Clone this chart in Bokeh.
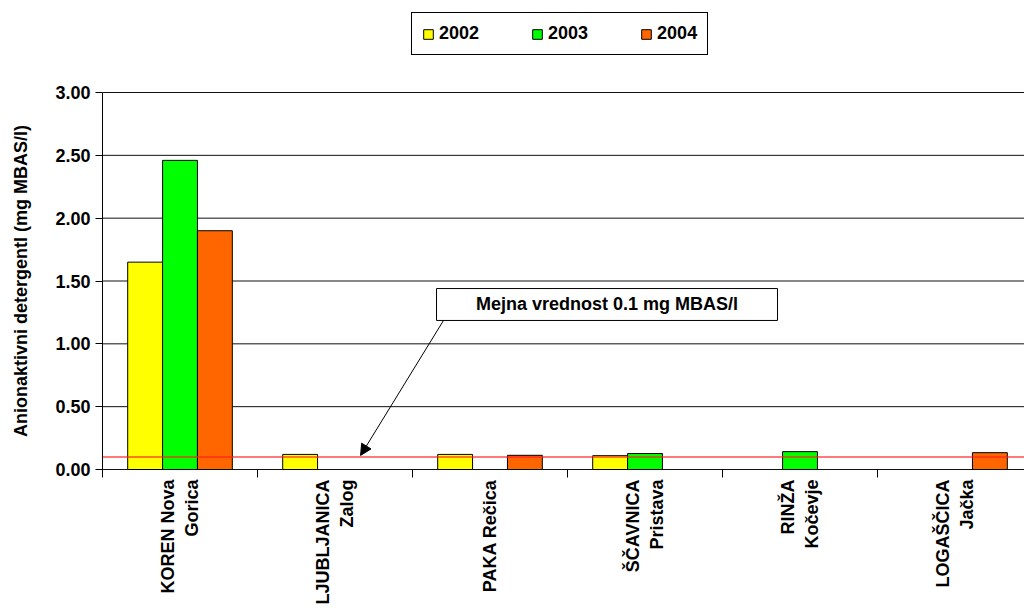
import math
import numpy as np
from bokeh.plotting import figure
from bokeh.models import (ColumnDataSource, FixedTicker, Label, BoxAnnotation,
                          Arrow, NormalHead, Legend, LegendItem, NumeralTickFormatter, Range1d)
from bokeh.embed import file_html
from bokeh.resources import INLINE

# ---- data ----
stations = ["KOREN Nova\nGorica", "LJUBLJANICA\nZalog", "PAKA Rečica",
            "ŠČAVNICA\nPristava", "RINŽA\nKočevje", "LOGAŠČICA\nJačka"]
years = ["2002", "2003", "2004"]
v2002 = [1.65, 0.12, 0.12, 0.11, np.nan, np.nan]
v2003 = [2.46, np.nan, np.nan, 0.127, 0.142, np.nan]
v2004 = [1.90, np.nan, 0.113, np.nan, np.nan, 0.134]
limit_value = 0.1
limit_text = "Mejna vrednost 0.1 mg MBAS/l"
y_ticks = [0.0, 0.5, 1.0, 1.5, 2.0, 2.5, 3.0]
y_max = 3.0
y_title = "Anionaktivni detergentl (mg MBAS/l)"

colors = ["#FFFF00", "#00FF00", "#FF6600"]
FONT = "Liberation Sans"
FS = "18px"

n = len(stations)
centers = [i + 0.5 for i in range(n)]
bar_w = 0.225
offsets = [-bar_w, 0.0, bar_w]

# frame covers x 0..1024 px and y 0..477 px; value axis starts at x=102 px, value 0 at 469 px
CAT = 155.0            # px per category
PX = 377 / y_max       # px per unit
x_end = 922 / CAT
p = figure(width=1024, height=614,
           x_range=Range1d(-102 / CAT, x_end), y_range=Range1d(-8 / PX, 469 / PX),
           output_backend="svg", toolbar_location=None,
           min_border_left=0, min_border_right=0,
           min_border_top=0, min_border_bottom=137)
p.outline_line_color = None
p.background_fill_color = "white"
p.border_fill_color = "white"
p.xgrid.visible = False
p.ygrid.visible = False

# horizontal grid lines (only over the plot area); the one at 0 is the category axis line
p.segment(x0=[0] * len(y_ticks), x1=[x_end] * len(y_ticks), y0=y_ticks, y1=y_ticks,
          line_color="#101010", line_width=1)

renderers = []
for vals, off, col in zip([v2002, v2003, v2004], offsets, colors):
    src = ColumnDataSource(dict(x=[c + off for c in centers], top=vals))
    r = p.vbar(x="x", top="top", width=bar_w, source=src,
               fill_color=col, line_color="black", line_width=1)
    renderers.append(r)

# limit line
p.segment(x0=[0], x1=[x_end], y0=[limit_value], y1=[limit_value],
          line_color="#FF2020", line_alpha=0.8, line_width=1.5)

# y axis pinned at x = 0
p.yaxis.fixed_location = 0
p.yaxis.ticker = FixedTicker(ticks=y_ticks)
p.yaxis.bounds = (0, y_max)
p.yaxis.formatter = NumeralTickFormatter(format="0.00")
p.yaxis.major_tick_in = 0
p.yaxis.major_tick_out = 7
p.yaxis.minor_tick_line_color = None
p.yaxis.axis_line_color = "black"
p.yaxis.major_label_text_font = FONT
p.yaxis.major_label_text_font_style = "bold"
p.yaxis.major_label_text_font_size = FS
p.yaxis.major_label_text_color = "black"
p.yaxis.major_label_standoff = 5

# y title
p.add_layout(Label(x=20, x_units="screen", y=y_max / 2, y_units="data", angle=math.pi / 2,
                   text=y_title, text_align="center", text_baseline="middle",
                   text_font=FONT, text_font_style="bold", text_font_size=FS,
                   text_color="black"))

# x axis (at frame bottom, 8 px under value 0; its ticks reach up to the 0 line)
p.xaxis.bounds = (0, x_end)
p.xaxis.ticker = FixedTicker(ticks=centers, minor_ticks=list(range(n + 1)))
p.xaxis.major_label_overrides = {c: s for c, s in zip(centers, stations)}
p.xaxis.major_tick_line_color = None
p.xaxis.major_tick_in = 0
p.xaxis.major_tick_out = 0
p.xaxis.minor_tick_in = 8
p.xaxis.minor_tick_out = 0
p.xaxis.minor_tick_line_color = "black"
p.xaxis.axis_line_color = None
p.xaxis.major_label_orientation = math.pi / 2
p.xaxis.major_label_standoff = 2
p.xaxis.major_label_text_font = FONT
p.xaxis.major_label_text_font_style = "bold"
p.xaxis.major_label_text_font_size = FS
p.xaxis.major_label_text_color = "black"

# annotation box + arrow
p.add_layout(BoxAnnotation(left=2.155, right=4.355, bottom=1.186, top=1.44,
                           fill_color="white", fill_alpha=1.0,
                           line_color="black", line_alpha=1.0, line_width=1))
p.add_layout(Label(x=3.255, y=1.313, text=limit_text, text_align="center",
                   text_baseline="middle", text_font=FONT, text_font_style="bold",
                   text_font_size=FS, text_color="black"))
p.add_layout(Arrow(end=NormalHead(size=11, fill_color="black", line_color="black"),
                   x_start=2.2, y_start=1.186, x_end=1.665, y_end=limit_value + 0.012,
                   line_color="black", line_width=1))

# legend (frame coordinates of its bottom-left corner)
legend = Legend(items=[LegendItem(label=y, renderers=[r]) for y, r in zip(years, renderers)],
                orientation="horizontal", location=(411, 422),
                border_line_color="black", border_line_width=1, border_line_alpha=1,
                background_fill_color="white", background_fill_alpha=1,
                label_text_font=FONT, label_text_font_style="bold",
                label_text_font_size=FS, label_text_color="black",
                glyph_width=12, glyph_height=12, label_standoff=5,
                padding=10, spacing=52, margin=0)
p.add_layout(legend, "center")

open("out.html", "w").write(file_html(p, INLINE))
